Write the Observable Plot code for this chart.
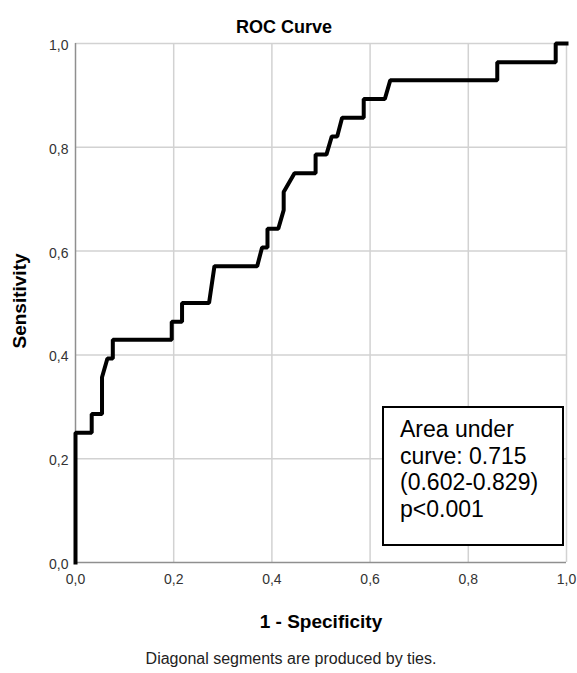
<!DOCTYPE html>
<html>
<head>
<meta charset="utf-8">
<script src="https://cdn.jsdelivr.net/npm/d3@7"></script>
<script src="https://cdn.jsdelivr.net/npm/@observablehq/plot@0.6"></script>
<style>
  html, body { margin: 0; padding: 0; background: white; }
  #wrap { position: relative; width: 577px; height: 673px; overflow: hidden; }
  #auc {
    position: absolute; left: 382px; top: 406px; width: 182px; height: 140px;
    box-sizing: border-box; border: 2px solid #000; background: #fff;
    padding: 8px 0 0 16px;
    font-family: "Liberation Sans", Arial, sans-serif; font-size: 23px; line-height: 26.7px; color: #000;
    white-space: nowrap;
  }
</style>
</head>
<body>
<div id="wrap"></div>
<script>
// ROC curve vertices (1 - specificity, sensitivity)
const fpr = [0, 0, 0.033, 0.033, 0.054, 0.054, 0.065, 0.076, 0.076, 0.196, 0.196, 0.217, 0.217, 0.272, 0.283, 0.370, 0.380, 0.391, 0.391, 0.413, 0.424, 0.424, 0.446, 0.489, 0.489, 0.511, 0.522, 0.533, 0.543, 0.587, 0.587, 0.630, 0.641, 0.859, 0.859, 0.978, 0.978, 1];
const tpr = [0, 0.25, 0.25, 0.286, 0.286, 0.357, 0.393, 0.393, 0.429, 0.429, 0.464, 0.464, 0.5, 0.5, 0.571, 0.571, 0.607, 0.607, 0.643, 0.643, 0.679, 0.714, 0.75, 0.75, 0.786, 0.786, 0.821, 0.821, 0.857, 0.857, 0.893, 0.893, 0.929, 0.929, 0.964, 0.964, 1, 1];
const tickValues = [0, 0.2, 0.4, 0.6, 0.8, 1];
const tickLabels = ["0,0", "0,2", "0,4", "0,6", "0,8", "1,0"];
const gridValues = [0.2, 0.4, 0.6, 0.8, 1];
const titleText = ["ROC Curve"];
const xLabel = ["1 - Specificity"];
const yLabel = ["Sensitivity"];
const captionText = ["Diagonal segments are produced by ties."];
const aucLines = ["Area under", "curve: 0.715", "(0.602-0.829)", "p<0.001"];

const points = fpr.map((x, i) => ({x, y: tpr[i]}));
const ticks = tickValues.map((v, i) => ({v, label: tickLabels[i]}));

const chart = Plot.plot({
  width: 577, height: 673,
  marginTop: 43, marginBottom: 111, marginLeft: 75, marginRight: 11,
  style: {fontFamily: "'Liberation Sans', Arial, sans-serif", background: "white", overflow: "visible"},
  x: {domain: [0, 1], axis: null},
  y: {domain: [0, 1], axis: null},
  marks: [
    Plot.ruleY(gridValues, {stroke: "#d2d2d2", strokeWidth: 1.5}),
    Plot.ruleX(gridValues, {stroke: "#d2d2d2", strokeWidth: 1.5}),
    Plot.ruleX([0], {stroke: "#8f8f8f", strokeWidth: 1.5}),
    Plot.ruleY([0], {stroke: "#8f8f8f", strokeWidth: 1.5}),
    Plot.line(points, {x: "x", y: "y", stroke: "black", strokeWidth: 4, strokeLinejoin: "miter", strokeLinecap: "square"}),
    Plot.text(ticks, {x: "v", text: "label", frameAnchor: "bottom", textAnchor: "middle", lineAnchor: "middle", dy: 17, fontSize: 14, fill: "#333"}),
    Plot.text(ticks, {y: "v", text: "label", frameAnchor: "left", textAnchor: "end", lineAnchor: "middle", dx: -7, dy: 2, fontSize: 14, fill: "#333"}),
    Plot.text(titleText, {frameAnchor: "top", textAnchor: "middle", lineAnchor: "middle", dx: -37, dy: -16, fontSize: 18, fontWeight: "bold", fill: "#000"}),
    Plot.text(xLabel, {frameAnchor: "bottom", textAnchor: "middle", lineAnchor: "middle", dx: 0, dy: 59, fontSize: 19, fontWeight: "bold", fill: "#000"}),
    Plot.text(yLabel, {frameAnchor: "left", textAnchor: "middle", lineAnchor: "middle", dx: -56, dy: -2, rotate: -90, fontSize: 19, fontWeight: "bold", fill: "#000"}),
    Plot.text(captionText, {frameAnchor: "bottom", textAnchor: "middle", lineAnchor: "middle", dx: -30, dy: 96, fontSize: 16, fill: "#222"})
  ]
});

const wrap = document.getElementById("wrap");
wrap.appendChild(chart);
const box = document.createElement("div");
box.id = "auc";
box.innerHTML = aucLines.join("<br>");
wrap.appendChild(box);
</script>
</body>
</html>
